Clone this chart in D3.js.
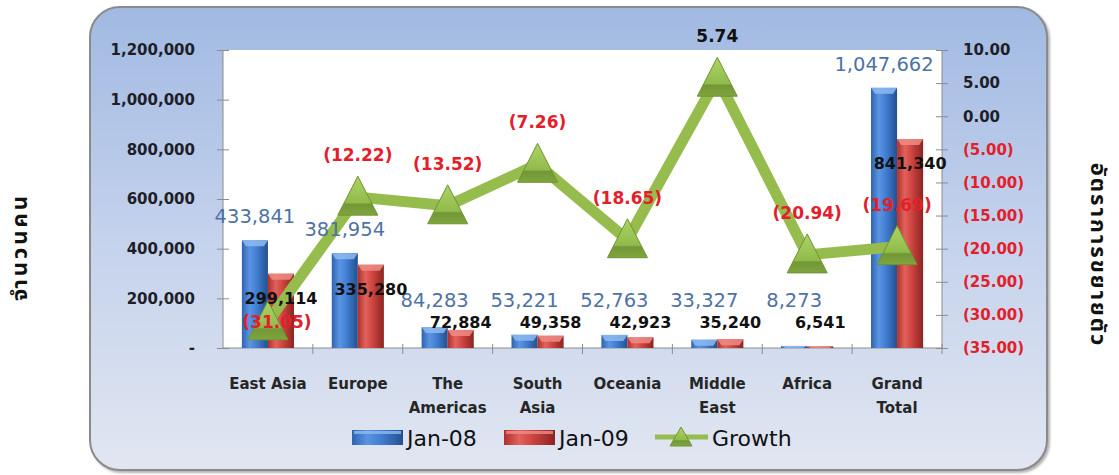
<!DOCTYPE html>
<html>
<head>
<meta charset="utf-8">
<script src="https://cdn.jsdelivr.net/npm/d3@7/dist/d3.min.js"></script>
<style>
  body { margin: 0; background: #fff; }
  svg text { font-family: "DejaVu Sans", sans-serif; }
</style>
</head>
<body>
<div id="chart"></div>
<script>
// data
var categories = ["East Asia", "Europe", "The Americas", "South Asia", "Oceania", "Middle East", "Africa", "Grand Total"];
var jan08 = [433841, 381954, 84283, 53221, 52763, 33327, 8273, 1047662];
var jan09 = [299114, 335280, 72884, 49358, 42923, 35240, 6541, 841340];
var growth = [-31.05, -12.22, -13.52, -7.26, -18.65, 5.74, -20.94, -19.69];
var leftTicks = [0, 200000, 400000, 600000, 800000, 1000000, 1200000];
var rightTicks = [10, 5, 0, -5, -10, -15, -20, -25, -30, -35];

var width = 1119,
    height = 475;

var svg = d3.select("#chart").append("svg")
    .attr("width", width)
    .attr("height", height)

var defs = svg.append("defs")

function grad(id, stops, vertical) {
  var g = defs.append("linearGradient").attr("id", id)
      .attr("x1", 0).attr("y1", 0)
      .attr("x2", vertical ? 0 : 1).attr("y2", vertical ? 1 : 0)
  stops.forEach(function(s){ g.append("stop").attr("offset", s[0]).attr("stop-color", s[1]) })
}
grad("frameGrad", [[0, "#a1b9e2"], [0.5, "#c4d2ec"], [1, "#e1e6f1"]], true)
grad("blueGrad", [[0, "#2f63b2"], [0.3, "#5a94e2"], [0.55, "#4380d4"], [1, "#23508f"]])
grad("redGrad", [[0, "#b02f2b"], [0.3, "#e2625c"], [0.55, "#cf4541"], [1, "#8c2421"]])
grad("triGrad", [[0, "#acd466"], [0.68, "#90bb4b"], [0.72, "#729736"], [1, "#7fa53e"]], true)

var shadow = defs.append("filter").attr("id", "shadow")
shadow.append("feDropShadow").attr("dx", 2).attr("dy", 2).attr("stdDeviation", 1.2)
    .attr("flood-color", "#666").attr("flood-opacity", 0.5)

/* outer frame */
svg.append("rect")
    .attr("x", 90).attr("y", 7)
    .attr("width", 957).attr("height", 463)
    .attr("rx", 30)
    .attr("fill", "url(#frameGrad)")
    .attr("stroke", "#8a8a8a")
    .attr("stroke-width", 2)
    .attr("filter", "url(#shadow)")

var plotL = 223, plotR = 942, plotT = 50, plotB = 348;

svg.append("rect")
    .attr("x", plotL).attr("y", plotT)
    .attr("width", plotR - plotL).attr("height", plotB - plotT)
    .attr("fill", "#fff")

var x = d3.scaleBand().domain(categories).range([plotL, plotR])
var x1 = d3.scaleBand().domain(["Jan-08", "Jan-09"])
    .range([x.bandwidth() * 0.21, x.bandwidth() * 0.79])
var yL = d3.scaleLinear().domain([0, 1200000]).range([plotB, plotT])
var yR = d3.scaleLinear().domain([-35, 10]).range([plotB, plotT])

/* left axis */
var axL = svg.append("g")
    .attr("transform", "translate(" + plotL + ",0)")
    .call(d3.axisLeft(yL).tickValues(leftTicks).tickSize(6).tickPadding(22)
      .tickFormat(function(d){ return d === 0 ? "-" : d3.format(",")(d) }))
axL.selectAll("line").attr("x1", 6)
axL.selectAll("line, path").attr("stroke", "#8c8c8c")
axL.select(".domain").attr("d", "M0," + plotT + "V" + plotB)
axL.selectAll("text")
    .style("font-size", "15px").style("font-weight", "bold")
    .attr("fill", "#1e1e28")

/* right axis */
var fmtR = function(d){ return d < 0 ? "(" + d3.format(".2f")(-d) + ")" : d3.format(".2f")(d) }
var axR = svg.append("g")
    .attr("transform", "translate(" + plotR + ",0)")
    .call(d3.axisRight(yR).tickValues(rightTicks).tickSize(6).tickPadding(15).tickFormat(fmtR))
axR.selectAll("line").attr("x1", -6)
axR.selectAll("line, path").attr("stroke", "#8c8c8c")
axR.select(".domain").attr("d", "M0," + plotT + "V" + plotB)
axR.selectAll("text")
    .style("font-size", "15px").style("font-weight", "bold")
    .attr("fill", function(d){ return d < 0 ? "#e3202a" : "#1e1e28" })

/* category axis */
svg.append("line")
    .attr("x1", plotL).attr("x2", plotR)
    .attr("y1", plotB).attr("y2", plotB)
    .attr("stroke", "#8c8c8c")
svg.selectAll("line.catTick")
    .data(categories)
    .enter().append("line")
    .attr("class", "catTick")
    .attr("x1", function(d){ return x(d) + x.bandwidth() })
    .attr("x2", function(d){ return x(d) + x.bandwidth() })
    .attr("y1", plotB - 4).attr("y2", plotB + 6)
    .attr("stroke", "#8c8c8c")

var catLabels = svg.selectAll("text.cat")
    .data(categories)
    .enter().append("text")
    .attr("class", "cat")
    .attr("text-anchor", "middle")
    .attr("fill", "#262626")
    .style("font-size", "15px").style("font-weight", "bold")
catLabels.each(function(d){
  var words = d === "East Asia" ? [d] : d.split(" ")
  var t = d3.select(this)
  words.forEach(function(w, j){
    t.append("tspan")
      .attr("x", x(d) + x.bandwidth() / 2)
      .attr("y", 389 + j * 24)
      .text(w)
  })
})

/* bars */
var barData = []
categories.forEach(function(c, i){
  barData.push({cat: c, key: "Jan-08", v: jan08[i]})
  barData.push({cat: c, key: "Jan-09", v: jan09[i]})
})

var bars = svg.selectAll("g.bar")
    .data(barData)
    .enter().append("g")
    .attr("class", "bar")
    .attr("transform", function(d){ return "translate(" + (x(d.cat) + x1(d.key)) + ",0)" })

bars.append("rect")
    .attr("x", 0)
    .attr("y", function(d){ return yL(d.v) })
    .attr("width", x1.bandwidth())
    .attr("height", function(d){ return plotB - yL(d.v) })
    .attr("fill", function(d){ return d.key === "Jan-08" ? "url(#blueGrad)" : "url(#redGrad)" })

// bevel on top of each bar
bars.append("path")
    .attr("d", function(d){
      var w = x1.bandwidth(), t = yL(d.v), h = Math.min(6, plotB - t)
      return "M0," + t + "H" + w + "L" + (w - 4) + "," + (t + h) + "H4Z"
    })
    .attr("fill", function(d){ return d.key === "Jan-08" ? "#8dbaf0" : "#ef8c86" })
    .attr("opacity", 0.85)

/* growth line */
var cx = function(i){ return x(categories[i]) + x.bandwidth() / 2 }

svg.append("path")
    .datum(growth)
    .attr("d", d3.line().x(function(d, i){ return cx(i) }).y(function(d){ return yR(d) }))
    .attr("fill", "none")
    .attr("stroke", "#96bc4e")
    .attr("stroke-width", 11)
    .attr("stroke-linejoin", "round")

svg.selectAll("path.tri")
    .data(growth)
    .enter().append("path")
    .attr("class", "tri")
    .attr("transform", function(d, i){ return "translate(" + cx(i) + "," + yR(d) + ")" })
    .attr("d", "M0,-21L20,18L-20,18Z")
    .attr("fill", "url(#triGrad)")
    .attr("stroke", "#6f9433")
    .attr("stroke-width", 1)

/* value labels */
svg.selectAll("text.v08")
    .data(jan08)
    .enter().append("text")
    .attr("class", "v08")
    .attr("text-anchor", "middle")
    .attr("x", function(d, i){ return x(categories[i]) + x1("Jan-08") + x1.bandwidth() / 2 })
    .attr("y", function(d){ return Math.min(yL(d) - 17, 307) })
    .attr("fill", "#4e72a5")
    .style("font-size", "19.5px")
    .text(function(d){ return d3.format(",")(d) })

svg.selectAll("text.v09")
    .data(jan09)
    .enter().append("text")
    .attr("class", "v09")
    .attr("text-anchor", "middle")
    .attr("x", function(d, i){ return x(categories[i]) + x1("Jan-09") + x1.bandwidth() / 2 })
    .attr("y", function(d){ return Math.min(yL(d) + 30, 328) })
    .attr("fill", "#111")
    .style("font-size", "16px").style("font-weight", "bold")
    .text(function(d){ return d3.format(",")(d) })

svg.selectAll("text.gr")
    .data(growth)
    .enter().append("text")
    .attr("class", "gr")
    .attr("text-anchor", "middle")
    .attr("x", function(d, i){ return cx(i) + (d < -30 ? 9 : 0) })
    .attr("y", function(d){ return d < -30 ? yR(d) + 6 : yR(d) - 36 })
    .attr("fill", function(d){ return d < 0 ? "#e3202a" : "#111" })
    .style("font-size", "17px").style("font-weight", "bold")
    .text(fmtR)

/* axis titles */
svg.append("text")
    .attr("transform", "translate(27,247) rotate(-90)")
    .attr("text-anchor", "middle")
    .style("font-family", "'Noto Sans Thai', Loma, Garuda, Tahoma, sans-serif")
    .style("font-size", "22px").style("font-weight", "bold")
    .style("letter-spacing", "3px")
    .attr("fill", "#111")
    .text("จำนวนคน")

svg.append("text")
    .attr("transform", "translate(1091,255) rotate(90)")
    .attr("text-anchor", "middle")
    .style("font-family", "'Noto Sans Thai', Loma, Garuda, Tahoma, sans-serif")
    .style("font-size", "22px").style("font-weight", "bold")
    .style("letter-spacing", "2px")
    .attr("fill", "#111")
    .text("อัตราการขยายตัว")

/* legend */
var legend = svg.append("g").attr("transform", "translate(0,437)")
var legItems = [
  {name: "Jan-08", fill: "url(#blueGrad)", top: "#8dbaf0", x: 352},
  {name: "Jan-09", fill: "url(#redGrad)", top: "#ef8c86", x: 504}
]
legItems.forEach(function(it){
  legend.append("rect")
    .attr("x", it.x).attr("y", -7)
    .attr("width", 51).attr("height", 15)
    .attr("fill", it.fill)
  legend.append("rect")
    .attr("x", it.x + 2).attr("y", -6)
    .attr("width", 47).attr("height", 3)
    .attr("fill", it.top).attr("opacity", 0.8)
  legend.append("text")
    .attr("x", it.x + 55).attr("y", 9)
    .style("font-size", "22px")
    .attr("fill", "#111")
    .text(it.name)
})
legend.append("line")
    .attr("x1", 655).attr("x2", 708)
    .attr("stroke", "#96bc4e").attr("stroke-width", 5)
legend.append("path")
    .attr("transform", "translate(681,0)")
    .attr("d", "M0,-10L11,9L-11,9Z")
    .attr("fill", "url(#triGrad)")
    .attr("stroke", "#6f9433")
legend.append("text")
    .attr("x", 712).attr("y", 9)
    .style("font-size", "22px")
    .attr("fill", "#111")
    .text("Growth")
</script>
</body>
</html>
